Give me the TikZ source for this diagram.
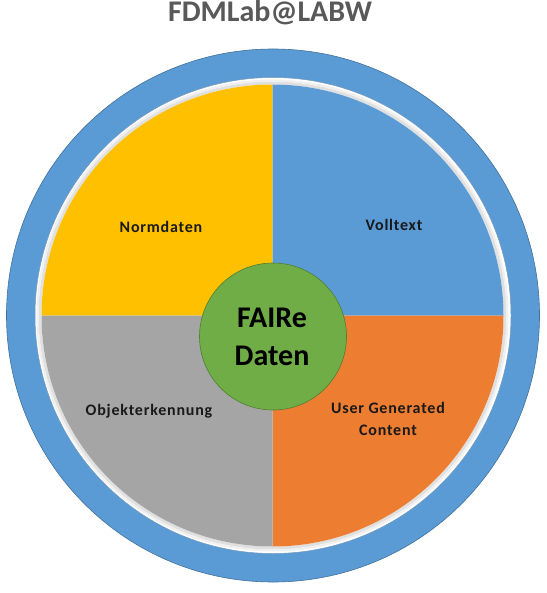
\documentclass[tikz,border=0pt]{standalone}
\usepackage{fontspec}
\setmainfont{Carlito}
\newfontfamily\lblfont[LetterSpace=5]{Carlito}
\definecolor{ringblue}{HTML}{5B9BD5}
\definecolor{ringedge}{HTML}{41719C}
\definecolor{qyellow}{HTML}{FFC000}
\definecolor{qblue}{HTML}{5B9BD5}
\definecolor{qorange}{HTML}{ED7D31}
\definecolor{qgray}{HTML}{A5A5A5}
\definecolor{cgreen}{HTML}{70AD47}
\definecolor{cgreenedge}{HTML}{507E32}
\definecolor{titlegray}{HTML}{595959}
\tikzset{
  lbl/.style={anchor=base,inner sep=0pt,font=\lblfont\bfseries\fontsize{16}{22}\selectfont,text=black!90,align=center},
}
\begin{document}
\begin{tikzpicture}[x=1pt,y=-1pt]
\useasboundingbox (0,0) rectangle (546,593);
% outer ring
\fill[ringblue,even odd rule] (273,315.5) circle[radius=266.5pt] (273,315.5) circle[radius=238pt];
\draw[ringedge,line width=0.6pt] (273,315.5) circle[radius=266.5pt];
\draw[ringedge!70,line width=0.5pt] (273,315.5) circle[radius=238pt];
% soft shadow of inner disc
\draw[black!12,line width=3pt] (272.5,315.5) circle[radius=232.5pt];
\draw[black!6,line width=2pt] (272.5,315.5) circle[radius=235pt];
% quadrants
\coordinate (c) at (272.5,315.5);
\fill[qyellow] (c) -- ++(-231,0) arc[start angle=180,end angle=90,radius=231pt] -- cycle;
\fill[qblue] (c) -- ++(0,-231) arc[start angle=90,end angle=0,radius=231pt] -- cycle;
\fill[qorange] (c) -- ++(231,0) arc[start angle=0,end angle=-90,radius=231pt] -- cycle;
\fill[qgray] (c) -- ++(0,231) arc[start angle=-90,end angle=-180,radius=231pt] -- cycle;
% centre circle
\node[circle,draw=cgreenedge,line width=0.6pt,fill=cgreen,minimum size=147pt,inner sep=0pt] (core) at (273,336.5) {};
\node[anchor=base,inner sep=0pt,font=\bfseries\fontsize{30}{38}\selectfont] (fair) at (272,327) {FAIRe};
\node[anchor=base,inner sep=0pt,font=\bfseries\fontsize{30}{38}\selectfont] (daten) at (272,365) {Daten};
% labels
\node[lbl] (norm) at (161,232.7) {Normdaten};
\node[lbl] (voll) at (394,230) {Volltext};
\node[lbl] (obj) at (149,415.7) {Objekterkennung};
\node[lbl] (ugc1) at (388,413.3) {User Generated};
\node[lbl] (ugc2) at (388,435) {Content};
% title
\node[anchor=base,inner sep=0pt,text=titlegray,font=\bfseries\fontsize{30}{36}\selectfont] (title) at (270,22) {FDMLab@LABW};
\end{tikzpicture}
\end{document}
